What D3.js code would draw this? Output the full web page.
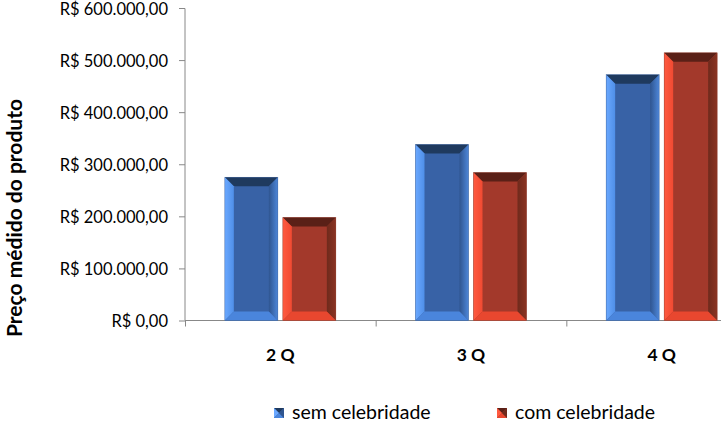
<!DOCTYPE html>
<html><head><meta charset="utf-8">
<script src="https://cdn.jsdelivr.net/npm/d3@7/dist/d3.min.js"></script>
<style>body{margin:0;background:#fff}svg{display:block}</style>
</head><body>
<script>
const categories = ["2 Q", "3 Q", "4 Q"];
const seriesNames = ["sem celebridade", "com celebridade"];
const semCelebridade = [275000, 338000, 472000];
const comCelebridade = [198000, 284000, 514000];
const yTicks = [0, 100000, 200000, 300000, 400000, 500000, 600000];

const W = 721, H = 424;
const svg = d3.select("body").append("svg").attr("width", W).attr("height", H);
const font = "Lato, 'Open Sans', sans-serif";

const x = d3.scaleBand().domain(categories).range([185, 757]).paddingInner(0).paddingOuter(0);
const y = d3.scaleLinear().domain([0, 600000]).range([320.5, 8]);

const palettes = [
  {main:"#3862a6", top:"#1f3a5e", left:["#6aa8ff","#4f8fe8"], right:["#2f5590","#4d86d8"], bottom:"#4a85dc", stroke:"#3a5f95"},
  {main:"#a3392b", top:"#5a2017", left:["#ff5a40","#f04a32"], right:["#6f2a1c","#8a3322"], bottom:"#e8472f", stroke:"#8a4030"}
];

const defs = svg.append("defs");
palettes.forEach((p,i)=>{
  ["left","right"].forEach(side=>{
    const g = defs.append("linearGradient").attr("id",`g${i}${side}`).attr("x1","0").attr("x2","1").attr("y1","0").attr("y2","0");
    g.append("stop").attr("offset","0").attr("stop-color",p[side][0]);
    g.append("stop").attr("offset","1").attr("stop-color",p[side][1]);
  });
});

// axes
const yAxis = d3.axisLeft(y).tickValues(yTicks).tickSize(6).tickPadding(11)
  .tickFormat(d => "R$ " + d3.format(",.2f")(d).replace(/,/g,"#").replace(/\./g,",").replace(/#/g,"."));
const gy = svg.append("g").attr("transform","translate(185,0)").call(yAxis);
gy.select(".domain").attr("stroke","#888").attr("d","M-6,8.5H0V320.5");
gy.selectAll(".tick line").attr("stroke","#888");
gy.selectAll(".tick text").attr("font-family",font).attr("font-size",16.5).attr("fill","#000").attr("dy","0.38em");

const gx = svg.append("g").attr("transform","translate(0,320.5)");
gx.append("line").attr("x1",185).attr("x2",W).attr("stroke","#888");
categories.forEach((c,i)=>{
  const bx = x(c);
  gx.append("line").attr("x1",bx+0.5).attr("x2",bx+0.5).attr("y1",0).attr("y2",6).attr("stroke","#888");
  gx.append("text").attr("x",bx + x.bandwidth()/2).attr("y",40).attr("text-anchor","middle")
    .attr("font-family",font).attr("font-weight","bold").attr("font-size",17.5).text(c);
});
gx.append("line").attr("x1",x("4 Q")+x.bandwidth()+0.5).attr("x2",x("4 Q")+x.bandwidth()+0.5).attr("y1",0).attr("y2",6).attr("stroke","#888");

// bars
const barW = 53, gap = 5;
const series = [semCelebridade, comCelebridade];
series.forEach((vals, si)=>{
  const p = palettes[si];
  vals.forEach((v, ci)=>{
    const c = categories[ci];
    const cx = x(c) + x.bandwidth()/2;
    const x0 = si===0 ? cx - gap/2 - barW : cx + gap/2;
    const x1 = x0 + barW;
    const y0 = y(v), y1 = y(0);
    const b = 9;
    const g = svg.append("g");
    g.append("rect").attr("x",x0).attr("y",y0).attr("width",barW).attr("height",y1-y0).attr("fill",p.main);
    const poly = pts => g.append("polygon").attr("points", pts.map(q=>q.join(",")).join(" "));
    poly([[x0,y0],[x1,y0],[x1-b,y0+b],[x0+b,y0+b]]).attr("fill",p.top);
    poly([[x0,y0],[x0+b,y0+b],[x0+b,y1-b],[x0,y1]]).attr("fill",`url(#g${si}left)`);
    poly([[x1,y0],[x1,y1],[x1-b,y1-b],[x1-b,y0+b]]).attr("fill",`url(#g${si}right)`);
    poly([[x0,y1],[x1,y1],[x1-b,y1-b],[x0+b,y1-b]]).attr("fill",p.bottom);
    g.append("rect").attr("x",x0).attr("y",y0).attr("width",barW).attr("height",y1-y0)
      .attr("fill","none").attr("stroke",p.stroke).attr("stroke-width",0.6).attr("stroke-opacity",0.6);
  });
});

// y label
svg.append("text").attr("transform","translate(22,218) rotate(-90)").attr("text-anchor","middle")
  .attr("font-family",font).attr("font-weight","bold").attr("font-size",21).text("Preço médido do produto");

// legend
const legX = [274, 497];
seriesNames.forEach((n,i)=>{
  const p = palettes[i];
  const lx = legX[i], ly = 408, s = 10;
  const g = svg.append("g");
  g.append("rect").attr("x",lx).attr("y",ly).attr("width",s).attr("height",s).attr("fill",p.main);
  g.append("polygon").attr("points",`${lx},${ly} ${lx+s},${ly} ${lx+s/2},${ly+s/2}`).attr("fill",p.top);
  g.append("polygon").attr("points",`${lx},${ly} ${lx+s/2},${ly+s/2} ${lx},${ly+s}`).attr("fill",p.left[0]);
  g.append("polygon").attr("points",`${lx},${ly+s} ${lx+s/2},${ly+s/2} ${lx+s},${ly+s}`).attr("fill",p.bottom);
  g.append("polygon").attr("points",`${lx+s},${ly} ${lx+s},${ly+s} ${lx+s/2},${ly+s/2}`).attr("fill",p.right[0]);
  svg.append("text").attr("x",lx+s+8).attr("y",ly+s+0.5).attr("font-family",font).attr("font-size",19.5)
    .text(n);
});
</script>
</body></html>
